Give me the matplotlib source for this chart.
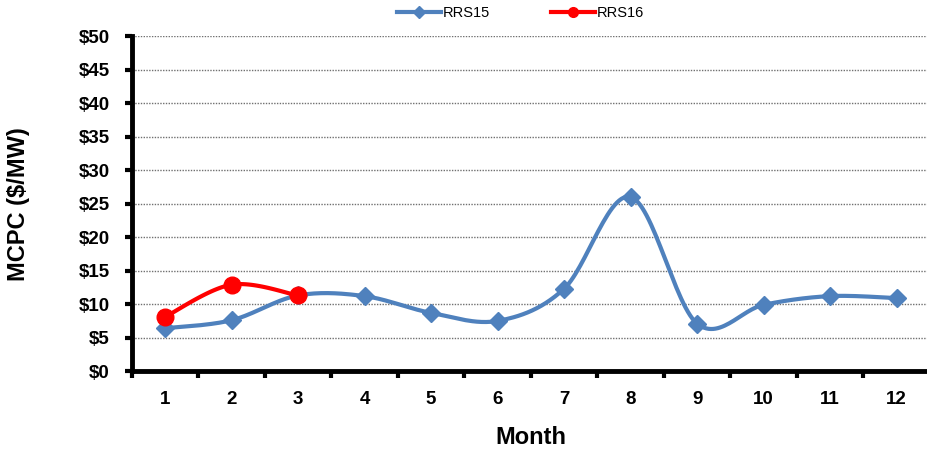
import numpy as np
import matplotlib.pyplot as plt
from matplotlib.lines import Line2D

plt.rcParams['font.family'] = ['Liberation Sans', 'DejaVu Sans']

# --- data ---
months = [1, 2, 3, 4, 5, 6, 7, 8, 9, 10, 11, 12]
rrs15 = [6.4, 7.6, 11.3, 11.2, 8.7, 7.5, 12.3, 26.0, 7.1, 9.9, 11.2, 10.9]
rrs16_months = [1, 2, 3]
rrs16 = [8.1, 12.9, 11.3]
y_ticks = [0, 5, 10, 15, 20, 25, 30, 35, 40, 45, 50]

BLUE = '#4F81BD'
RED = '#FF0000'


def smooth(x, y, n=30):
    # Excel-style smoothed line: cubic bezier with catmull-rom control points
    p = np.column_stack([x, y]).astype(float)
    pts = np.vstack([p[0], p, p[-1]])
    out = []
    for i in range(1, len(pts) - 2):
        p0, p1, p2, p3 = pts[i - 1], pts[i], pts[i + 1], pts[i + 2]
        c1 = p1 + (p2 - p0) / 6.0
        c2 = p2 - (p3 - p1) / 6.0
        t = np.linspace(0, 1, n)[:, None]
        seg = ((1 - t) ** 3) * p1 + 3 * ((1 - t) ** 2) * t * c1 + 3 * (1 - t) * t ** 2 * c2 + t ** 3 * p2
        out.append(seg if i == 1 else seg[1:])
    out = np.vstack(out)
    return out[:, 0], out[:, 1]


fig = plt.figure(figsize=(9.28, 4.51), dpi=100)
ax = fig.add_axes([0.142, 0.177, 0.86, 0.743])

sx, sy = smooth(months, rrs15)
ax.plot(sx, sy, color=BLUE, lw=3, solid_capstyle='round', zorder=3)
ax.plot(months, rrs15, ls='none', marker='D', ms=9, color=BLUE, zorder=4)

sx, sy = smooth(rrs16_months, rrs16)
ax.plot(sx, sy, color=RED, lw=3, solid_capstyle='round', zorder=5)
ax.plot(rrs16_months, rrs16, ls='none', marker='o', ms=12, color=RED, zorder=6)

ax.set_xlim(0.5, 12.5)
ax.set_ylim(0, 50)
ax.set_yticks(y_ticks)
ax.set_yticklabels(['$%d' % v for v in y_ticks])
ax.set_xticks(months)
ax.set_xticklabels([str(m) for m in months])
ax.set_xticks(np.arange(0.5, 13, 1), minor=True)

ax.grid(axis='y', color='#707070', ls=(0, (1, 1)), lw=1.0)
ax.set_axisbelow(True)
for s in ['top', 'right']:
    ax.spines[s].set_visible(False)
for s in ['left', 'bottom']:
    ax.spines[s].set_linewidth(3.5)
    ax.spines[s].set_color('black')

ax.tick_params(axis='y', which='major', length=5, width=3, labelsize=13.5, pad=11)
ax.tick_params(axis='x', which='major', length=0, labelsize=13.5, pad=14)
ax.tick_params(axis='x', which='minor', length=5, width=3)
for lbl in ax.get_xticklabels() + ax.get_yticklabels():
    lbl.set_fontweight('bold')

ax.set_xlabel('Month', fontsize=17, fontweight='bold', labelpad=13)
ax.set_ylabel('MCPC ($/MW)', fontsize=17, fontweight='bold')
ax.yaxis.set_label_coords(-0.128, 0.5)

handles = [
    Line2D([], [], color=BLUE, lw=3, marker='D', ms=6),
    Line2D([], [], color=RED, lw=3, marker='o', ms=7),
]
fig.legend(handles, ['RRS15', 'RRS16'], loc='center', bbox_to_anchor=(0.561, 0.971),
           ncol=2, frameon=False, fontsize=10.5, handlelength=3.0, columnspacing=4.2,
           handletextpad=0.15)

fig.savefig('out.png', dpi=100)
